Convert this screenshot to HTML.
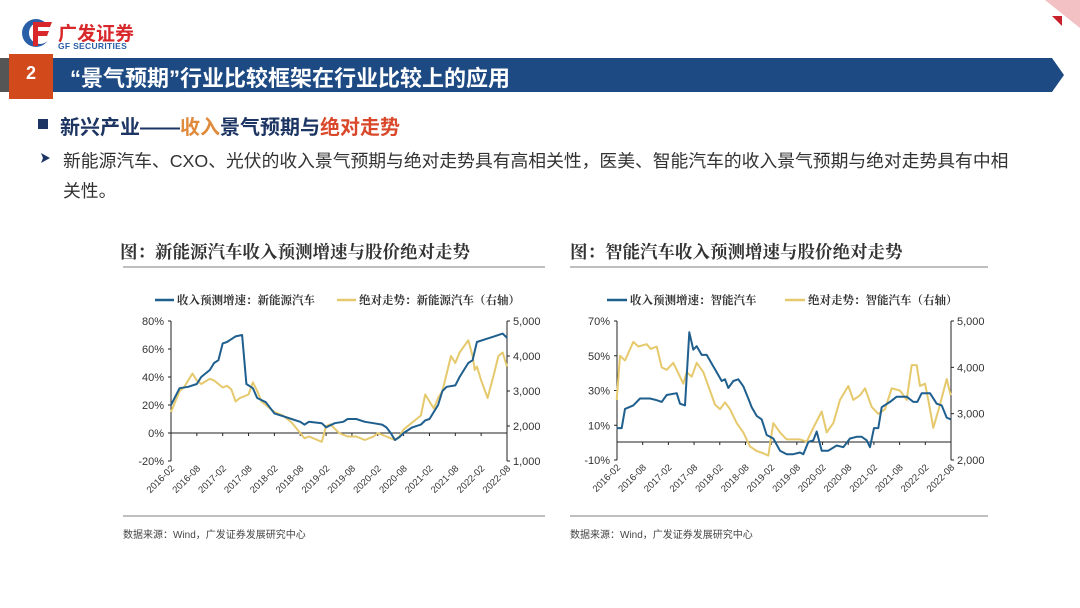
<!DOCTYPE html>
<html><head><meta charset="utf-8">
<style>
body{margin:0;width:1080px;height:608px;background:#fff;position:relative;overflow:hidden;font-family:"Liberation Sans","Noto Sans CJK SC",sans-serif;}
.abs{position:absolute;white-space:nowrap;}
.sf{font-family:'Liberation Serif','Noto Serif CJK SC',serif;}
</style></head><body>
<svg class="abs" style="left:0;top:0" width="1080" height="608">
  <circle cx="36" cy="33" r="14" fill="#2a5fa8"/>
  <circle cx="40" cy="33" r="11" fill="#fff"/>
  <path d="M33 22 H52 L50 27 H38 V31 H49 L47 36 H38 V46 H33 Z" fill="#d8282b"/>
  <polygon points="1045,0 1080,0 1080,28" fill="#f3c0c3"/>
  <polygon points="1052,16 1062,16 1062,26" fill="#c8202a"/>
  <rect x="0" y="58" width="10" height="34" fill="#555"/>
  <polygon points="10,58 1052,58 1064,75 1052,92 10,92" fill="#1d4a82"/>
  <rect x="9" y="54" width="44" height="45" fill="#d24a1c"/>
  <rect x="38" y="119" width="10" height="10" fill="#1d3563"/>
  <polygon points="41,153 50,158 41,163 43,158" fill="#1d3563"/>
  <line x1="123" y1="267" x2="545" y2="267" stroke="#999" stroke-width="1.2"/>
  <line x1="123" y1="516" x2="545" y2="516" stroke="#999" stroke-width="1.2"/>
  <line x1="570" y1="267" x2="988" y2="267" stroke="#999" stroke-width="1.2"/>
  <line x1="570" y1="516" x2="988" y2="516" stroke="#999" stroke-width="1.2"/>
  <g id="c1" stroke="#222" stroke-width="1" fill="none"></g>
  <g id="c2" stroke="#222" stroke-width="1" fill="none"></g>
  <line x1="155" y1="300" x2="174" y2="300" stroke="#1f5f8e" stroke-width="2.5"/>
  <line x1="337" y1="300" x2="356" y2="300" stroke="#e5c96c" stroke-width="2.5"/>
  <line x1="607" y1="300" x2="627" y2="300" stroke="#1f5f8e" stroke-width="2.5"/>
  <line x1="785" y1="300" x2="805" y2="300" stroke="#e5c96c" stroke-width="2.5"/>
</svg>
<div class="abs" style="left:58px;top:19px;font-size:19px;font-weight:bold;color:#d8282b;">广发证券</div>
<div class="abs" style="left:58px;top:41px;font-size:8.5px;font-weight:bold;color:#2a5fa8;letter-spacing:0.3px">GF SECURITIES</div>
<div class="abs" style="left:26px;top:63px;font-size:18px;font-weight:bold;color:#fff;">2</div>
<div class="abs" style="left:70px;top:61px;font-size:22px;font-weight:bold;color:#fff;">“景气预期”行业比较框架在行业比较上的应用</div>
<div class="abs" style="left:60px;top:111px;font-size:20px;font-weight:bold;color:#1d3563;">新兴产业——<span style="color:#e08a3c">收入</span>景气预期与<span style="color:#d9482a">绝对走势</span></div>
<div class="abs" style="left:63px;top:147px;font-size:17.8px;color:#333;">新能源汽车、CXO、光伏的收入景气预期与绝对走势具有高相关性，医美、智能汽车的收入景气预期与绝对走势具有中相</div>
<div class="abs" style="left:63px;top:177px;font-size:17.8px;color:#333;">关性。</div>
<div class="abs sf" style="left:120px;top:239px;font-size:17.5px;font-weight:bold;color:#333;">图：新能源汽车收入预测增速与股价绝对走势</div>
<div class="abs sf" style="left:570px;top:239px;font-size:17.5px;font-weight:bold;color:#333;">图：智能汽车收入预测增速与股价绝对走势</div>
<div class="abs sf" style="left:177px;top:292px;font-size:11.5px;font-weight:bold;color:#333;">收入预测增速：新能源汽车</div>
<div class="abs sf" style="left:359px;top:292px;font-size:11.5px;font-weight:bold;color:#333;">绝对走势：新能源汽车（右轴）</div>
<div class="abs sf" style="left:630px;top:292px;font-size:11.5px;font-weight:bold;color:#333;">收入预测增速：智能汽车</div>
<div class="abs sf" style="left:808px;top:292px;font-size:11.5px;font-weight:bold;color:#333;">绝对走势：智能汽车（右轴）</div>
<div class="abs" style="left:123px;top:526px;font-size:10px;color:#444;">数据来源：Wind，广发证券发展研究中心</div>
<div class="abs" style="left:570px;top:526px;font-size:10px;color:#444;">数据来源：Wind，广发证券发展研究中心</div>
<script>
const NS="http://www.w3.org/2000/svg";
function el(g,t,a,txt){const e=document.createElementNS(NS,t);for(const k in a)e.setAttribute(k,a[k]);if(txt!==undefined)e.textContent=txt;g.appendChild(e);return e;}
const labels=["2016-02","2016-08","2017-02","2017-08","2018-02","2018-08","2019-02","2019-08","2020-02","2020-08","2021-02","2021-08","2022-02","2022-08"];
function axes(g,xl,xr,yt,yb,zeroY,lt,rt){
  el(g,"line",{x1:xl,y1:yt,x2:xl,y2:yb});
  el(g,"line",{x1:xr,y1:yt,x2:xr,y2:yb});
  el(g,"line",{x1:xl,y1:zeroY,x2:xr,y2:zeroY});
  lt.forEach((t,i)=>{const y=yt+(yb-yt)*i/(lt.length-1);el(g,"line",{x1:xl-3,y1:y,x2:xl,y2:y});
    el(g,"text",{x:xl-7,y:y+4,"text-anchor":"end","font-size":"11",fill:"#333",stroke:"none","font-family":"Liberation Sans"},t);});
  rt.forEach((t,i)=>{const y=yt+(yb-yt)*i/(rt.length-1);el(g,"line",{x1:xr,y1:y,x2:xr+3,y2:y});
    el(g,"text",{x:xr+6,y:y+4,"font-size":"11",fill:"#333",stroke:"none","font-family":"Liberation Sans"},t);});
  labels.forEach((t,i)=>{const x=xl+(xr-xl)*i/13;el(g,"line",{x1:x,y1:zeroY,x2:x,y2:zeroY+3});
    el(g,"text",{x:x+4,y:yb+8,"text-anchor":"end","font-size":"9.5",fill:"#333",stroke:"none","font-family":"Liberation Sans",transform:`rotate(-45 ${x+4} ${yb+8})`},t);});
}
function line(g,pts,col){el(g,"polyline",{points:pts.map(p=>p[0].toFixed(1)+","+p[1].toFixed(1)).join(" "),stroke:col,"stroke-width":"2","stroke-linejoin":"round"});}
const g1=document.getElementById("c1");
axes(g1,171,507,321,461,433,["80%","60%","40%","20%","0%","-20%"],["5,000","4,000","3,000","2,000","1,000"]);
const b1=[[0,20],[2,32],[4,33],[6,35],[7,40],[9,45],[10,50],[11,52],[12,64],[13,65],[14,67],[15,69],[16.5,70],[17.5,35],[19,32],[20,25],[22,22],[23,18],[24,14],[26,12],[28,10],[30,8],[31,6],[32,8],[35,7],[36,4],[38,7],[40,8],[41,10],[43,10],[45,8],[47,7],[49,6],[50,4],[51,0],[52,-5],[53,-3],[54,0],[56,4],[58,6],[59,9],[60,10],[61,15],[62,20],[63,30],[64,33],[66,34],[67,40],[68,45],[69,50],[70,52],[71,65],[73,67],[75,69],[77,71],[78,68]];
const y1=[[0,2400],[2,3000],[3,3100],[5,3500],[6,3300],[7,3200],[9,3350],[10,3300],[12,3100],[13,3150],[14,3050],[15,2700],[16,2800],[17,2850],[18,2900],[19,3250],[20,3000],[21,2700],[22,2600],[24,2400],[26,2300],[28,2100],[30,1800],[31,1650],[32,1700],[35,1550],[36,2000],[37,2050],[39,1800],[41,1700],[43,1700],[45,1600],[47,1700],[48,1800],[50,1700],[51,1650],[52,1600],[53,1700],[54,1900],[55,2000],[56,2100],[58,2300],[59,2900],[60,2700],[61,2500],[62,2800],[63,3000],[64,3500],[65,4000],[66,3800],[67,4100],[69,4450],[70,4000],[70.5,3600],[71,3700],[72,3300],[73.5,2800],[75,3500],[76,4000],[77,4100],[78,3700]];
line(g1,y1.map(p=>[171+p[0]*4.308,321+(5000-p[1])*0.035]),"#e5c96c");
line(g1,b1.map(p=>[171+p[0]*4.308,433-p[1]*1.4]),"#1f5f8e");
const g2=document.getElementById("c2");
axes(g2,617,951,321,460,442,["70%","50%","30%","10%","-10%"],["5,000","4,000","3,000","2,000"]);
const b2=[[170,8],[185,8],[195,19],[220,21],[240,25],[270,25],[290,24],[305,23],[320,27],[350,28],[360,22],[375,21],[388,63],[400,53],[410,55],[425,50],[440,50],[455,45],[470,40],[485,35],[495,36],[505,31],[520,35],[535,36],[550,32],[565,25],[575,20],[590,15],[605,13],[620,4],[640,2],[660,-5],[680,-7],[700,-7],[720,-6],[730,-7],[745,0],[760,1],[770,6],[785,-5],[805,-5],[830,-2],[850,-3],[870,2],[890,3],[905,3],[920,1],[930,-3],[942,8],[955,8],[965,20],[990,23],[1010,26],[1040,26],[1060,23],[1072,23],[1085,28],[1110,28],[1130,22],[1145,21],[1160,14],[1172,13]];
const y2=[[170,3300],[180,4250],[195,4150],[220,4550],[235,4450],[260,4500],[272,4400],[290,4450],[305,4000],[320,3950],[340,4100],[360,3800],[370,3650],[380,3900],[395,3800],[410,4100],[430,3900],[450,3500],[465,3200],[480,3100],[495,3250],[510,3100],[530,2800],[550,2600],[570,2300],[590,2200],[610,2150],[625,2100],[640,2800],[660,2600],[680,2450],[700,2450],[720,2450],[740,2400],[760,2700],[785,3050],[800,2600],[820,2800],[840,3300],[865,3600],[880,3300],[900,3400],[915,3550],[935,3150],[955,3000],[975,3100],[995,3550],[1020,3500],[1040,3300],[1055,4050],[1070,4050],[1080,3600],[1095,3650],[1105,3300],[1120,2700],[1140,3200],[1160,3750],[1172,3400]];
line(g2,y2.map(p=>[560+p[0]/3,321+(5000-p[1])*0.04643]),"#e5c96c");
line(g2,b2.map(p=>[560+p[0]/3,442-p[1]*1.7417]),"#1f5f8e");
</script>
</body></html>
